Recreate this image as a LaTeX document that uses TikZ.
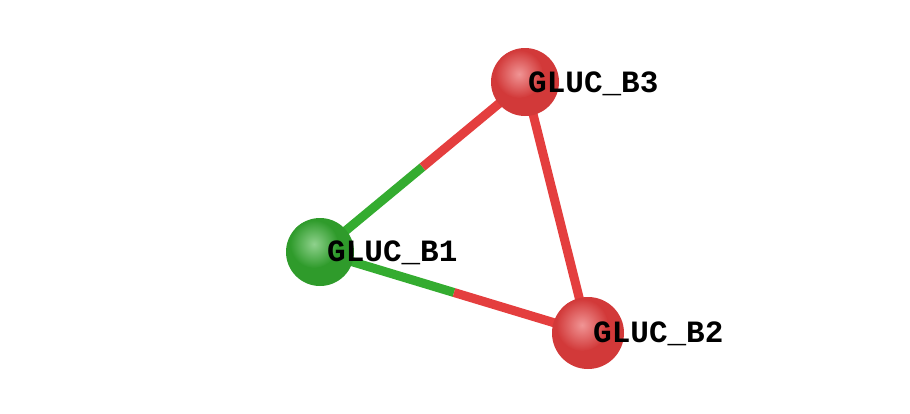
\documentclass[tikz,border=0pt]{standalone}
\usetikzlibrary{calc}
\usepackage{fontspec}
\setmonofont{Liberation Mono}
\definecolor{mred}{RGB}{228,62,62}
\definecolor{mgreen}{RGB}{52,172,48}
\begin{document}
\begin{tikzpicture}[x=1pt,y=-1pt,
  atom/.style={circle,inner sep=0pt},
  lbl/.style={anchor=base west,inner sep=0pt,font=\ttfamily\bfseries\fontsize{31}{31}\selectfont},
  bond/.style={line width=9pt}]
\useasboundingbox (0,0) rectangle (910,413);
\coordinate (c1) at (320,252);
\coordinate (c2) at (588,333);
\coordinate (c3) at (525,82);
\draw[bond,mgreen] (c1) -- ($(c1)!0.5!(c3)$) coordinate (m13);
\draw[bond,mred] (m13) -- (c3);
\draw[bond,mgreen] (c1) -- ($(c1)!0.5!(c2)$) coordinate (m12);
\draw[bond,mred] (m12) -- (c2);
\draw[bond,mred] (c3) -- (c2);
\node[atom,fill=mgreen!90!black,minimum size=68pt] (b1) at (c1) {};
\node[atom,fill=mred!92!black,minimum size=72pt] (b2) at (c2) {};
\node[atom,fill=mred!92!black,minimum size=68pt] (b3) at (c3) {};
\shade[inner color=mgreen!55!white,outer color=mgreen!90!black] ($(c1)+(-6,-8)$) circle (24);
\shade[inner color=mred!55!white,outer color=mred!92!black] ($(c2)+(-6,-8)$) circle (26);
\shade[inner color=mred!55!white,outer color=mred!92!black] ($(c3)+(-6,-8)$) circle (24);
\node[lbl] (l3) at (528,92) {GLUC\_B3};
\node[lbl] (l1) at (327,261) {GLUC\_B1};
\node[lbl] (l2) at (593,342) {GLUC\_B2};
\end{tikzpicture}
\end{document}
